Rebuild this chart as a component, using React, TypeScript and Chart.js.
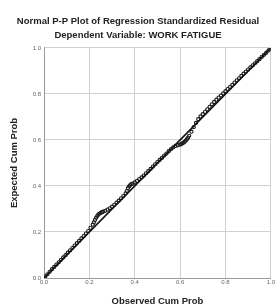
import React, { useEffect, useRef } from "react";
import { Chart, registerables } from "chart.js";

Chart.register(...registerables);

const titleLines = ["Normal P-P Plot of Regression Standardized Residual", "Dependent Variable: WORK FATIGUE"];
const xAxisTitle = "Observed Cum Prob";
const yAxisTitle = "Expected Cum Prob";

const observedCumProb = [
  0.005, 0.015, 0.025, 0.035, 0.045, 0.055, 0.065, 0.075, 0.085, 0.095, 0.105, 0.115, 0.125, 0.135, 0.145, 0.155,
  0.165, 0.175, 0.185, 0.195, 0.205, 0.215, 0.22, 0.225, 0.23, 0.235, 0.24, 0.245, 0.25, 0.255, 0.26, 0.27, 0.28,
  0.29, 0.30, 0.31, 0.32, 0.33, 0.34, 0.35, 0.36, 0.365, 0.37, 0.375, 0.38, 0.385, 0.39, 0.40, 0.41, 0.42, 0.43,
  0.44, 0.45, 0.46, 0.47, 0.48, 0.49, 0.50, 0.51, 0.52, 0.53, 0.54, 0.55, 0.56, 0.57, 0.58, 0.59, 0.60, 0.605,
  0.61, 0.615, 0.62, 0.625, 0.63, 0.635, 0.64, 0.65, 0.66, 0.67, 0.68, 0.69, 0.70, 0.71, 0.72, 0.73, 0.74, 0.75,
  0.76, 0.77, 0.78, 0.79, 0.80, 0.81, 0.82, 0.83, 0.84, 0.85, 0.86, 0.87, 0.88, 0.89, 0.90, 0.91, 0.92, 0.93,
  0.94, 0.95, 0.96, 0.97, 0.98, 0.99, 1.0,
];
const expectedCumProb = [
  0.006, 0.016, 0.027, 0.038, 0.048, 0.058, 0.068, 0.079, 0.089, 0.099, 0.11, 0.12, 0.13, 0.141, 0.151, 0.161,
  0.172, 0.182, 0.193, 0.204, 0.218, 0.232, 0.242, 0.252, 0.262, 0.27, 0.276, 0.28, 0.283, 0.286, 0.288, 0.292, 0.297,
  0.303, 0.31, 0.318, 0.327, 0.336, 0.346, 0.356, 0.368, 0.378, 0.39, 0.398, 0.404, 0.408, 0.41, 0.415, 0.422, 0.43, 0.437,
  0.445, 0.455, 0.464, 0.474, 0.484, 0.494, 0.504, 0.513, 0.522, 0.532, 0.541, 0.551, 0.56, 0.568, 0.574, 0.577, 0.58, 0.582,
  0.585, 0.588, 0.592, 0.597, 0.603, 0.61, 0.618, 0.636, 0.656, 0.674, 0.69, 0.702, 0.712, 0.722, 0.733, 0.744, 0.755, 0.765,
  0.775, 0.784, 0.793, 0.802, 0.812, 0.821, 0.83, 0.839, 0.849, 0.859, 0.868, 0.878, 0.888, 0.897, 0.906, 0.915, 0.924, 0.933,
  0.942, 0.951, 0.961, 0.97, 0.979, 0.989, 0.997,
];
const referenceX = [0, 1];
const referenceY = [0, 1];
const tickValues = [0, 0.2, 0.4, 0.6, 0.8, 1.0];

const FONT = "'Liberation Sans', Arial, sans-serif";

export default function App() {
  const ref = useRef<HTMLCanvasElement | null>(null);

  useEffect(() => {
    document.body.style.margin = "0";
    const canvas = ref.current;
    if (!canvas) return;
    const chart = new Chart(canvas, {
      type: "scatter",
      data: {
        datasets: [
          {
            type: "line",
            data: referenceX.map((x, i) => ({ x, y: referenceY[i] })),
            borderColor: "#111",
            borderWidth: 1.6,
            pointRadius: 0,
            fill: false,
          },
          {
            data: observedCumProb.map((x, i) => ({ x, y: expectedCumProb[i] })),
            pointStyle: "circle",
            pointRadius: 1.6,
            borderWidth: 1.1,
            borderColor: "#1a1a1a",
            backgroundColor: "rgba(0,0,0,0)",
          },
        ],
      },
      options: {
        responsive: false,
        animation: false,
        layout: { padding: 0 },
        plugins: {
          legend: { display: false },
          tooltip: { enabled: false },
          title: {
            display: true,
            text: titleLines,
            color: "#222",
            font: { family: FONT, size: 9.5, weight: "bold", lineHeight: 1.47 },
            padding: { top: 14, bottom: 6 },
          },
        },
        scales: {
          x: {
            type: "linear",
            min: 0,
            max: 1,
            afterBuildTicks: (s: any) => {
              s.ticks = tickValues.map((v) => ({ value: v }));
            },
            afterFit: (s: any) => {
              s.height = 28;
            },
            ticks: {
              color: "#666",
              font: { family: FONT, size: 6 },
              padding: 1,
              callback: (v: any) => Number(v).toFixed(1),
            },
            grid: { color: "#d0d0d0", lineWidth: 1, drawTicks: false },
            border: { color: "#999" },
            title: {
              display: true,
              text: xAxisTitle,
              color: "#222",
              font: { family: FONT, size: 9.5, weight: "bold", lineHeight: 1 },
              padding: { top: 0, bottom: 0 },
            },
          },
          y: {
            type: "linear",
            min: 0,
            max: 1,
            afterBuildTicks: (s: any) => {
              s.ticks = tickValues.map((v) => ({ value: v }));
            },
            afterFit: (s: any) => {
              s.width = 44;
            },
            ticks: {
              color: "#666",
              font: { family: FONT, size: 6 },
              padding: 3,
              callback: (v: any) => Number(v).toFixed(1),
            },
            grid: { color: "#d0d0d0", lineWidth: 1, drawTicks: false },
            border: { color: "#999" },
            title: {
              display: true,
              text: yAxisTitle,
              color: "#222",
              font: { family: FONT, size: 9.5, weight: "bold", lineHeight: 1 },
              padding: { top: 10, bottom: 0 },
            },
          },
        },
      },
    });
    return () => chart.destroy();
  }, []);

  return (
    <div style={{ position: "absolute", left: 0, top: 0, width: 276, height: 306, background: "#fff" }}>
      <canvas ref={ref} width={276} height={306} style={{ width: 276, height: 306 }} />
    </div>
  );
}
